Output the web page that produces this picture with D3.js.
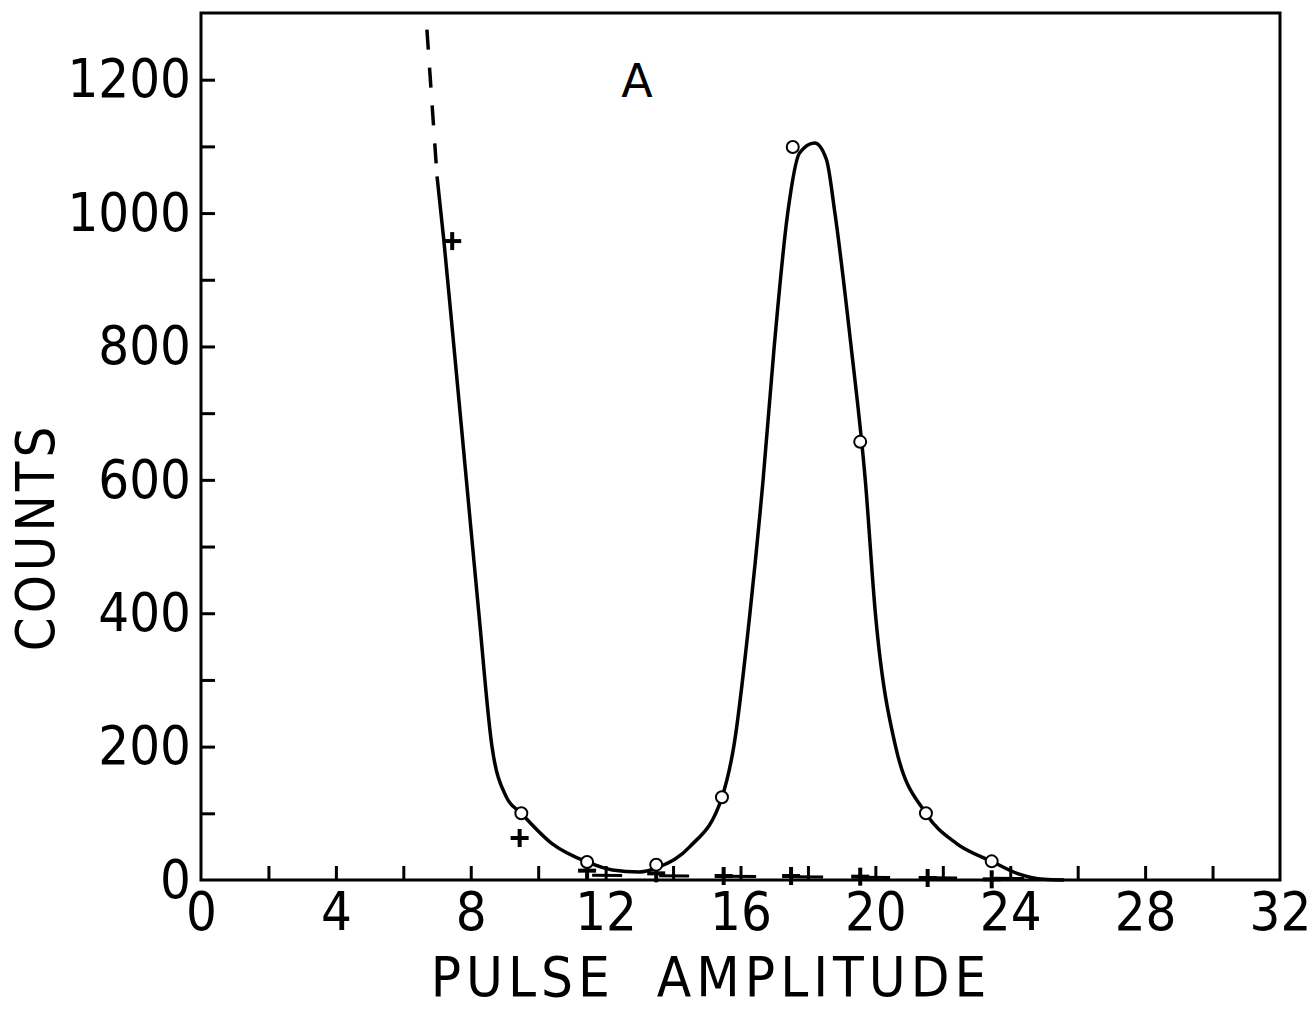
<!DOCTYPE html>
<html>
<head>
<meta charset="utf-8">
<script src="https://cdn.jsdelivr.net/npm/d3@7"></script>
<style>
  body { margin: 0; background: #fff; }
  text { font-family: "DejaVu Sans Condensed", "Liberation Sans Narrow", "DejaVu Sans", sans-serif; fill: #000; }
  .axis path, .axis line { stroke: #000; stroke-width: 3; }
</style>
</head>
<body>
<div id="chart"></div>
<script>
/* Pulse amplitude spectrum, panel A */

// open circles: measured counts
const circleX = [9.5, 11.45, 13.5, 15.45, 17.55, 19.55, 21.5, 23.45];
const circleY = [100, 27, 23, 124, 1099, 657, 100, 28];

// crosses: background counts
const plusX = [7.45, 9.45, 11.45, 13.5, 15.5, 17.5, 19.55, 21.55, 23.45];
const plusY = [958, 63, 14, 10, 6, 6, 5, 3, 1];

// smooth curve drawn through the circles
const curveX = [7.0, 7.2, 7.5, 7.87, 8.24, 8.63, 9.05, 9.5, 10.4, 11.45, 12.2, 13.0, 13.6, 14.5, 15.45, 15.8, 16.28, 16.67, 17.0, 17.4, 17.75, 18.2, 18.55, 18.8, 19.28, 19.7, 20.0, 20.6, 21.5, 22.4, 23.45, 24.2, 25.0, 25.6];
const curveY = [1055, 960, 800, 600, 400, 200, 125, 100, 55, 27, 15, 12, 20, 50, 124, 200, 400, 600, 800, 1000, 1090, 1105, 1080, 1000, 800, 600, 400, 200, 100, 55, 28, 10, 1, 0];

// dashed extension of the curve above the top
const extX = [6.7, 7.0];
const extY = [1275, 1055];

// dashed line through the crosses near zero
const bgX = [11.6, 25.0];
const bgY = [7, 2];

const xTicks = d3.range(2, 32, 2);
const xLabels = [0, 4, 8, 12, 16, 20, 24, 28, 32];
const yTicks = d3.range(100, 1300, 100);
const yLabels = [0, 200, 400, 600, 800, 1000, 1200];

let width = 1316,
  height = 1009,
  margin = { top: 13, right: 36, bottom: 129, left: 201 };

const svg = d3
  .select("#chart")
  .append("svg")
  .attr("width", width)
  .attr("height", height);

let x = d3
  .scaleLinear()
  .domain([0, 32])
  .range([margin.left, width - margin.right]);

let y = d3
  .scaleLinear()
  .domain([0, 1300])
  .range([height - margin.bottom, margin.top]);

// frame
svg
  .append("rect")
  .attr("x", x(0))
  .attr("y", y(1300))
  .attr("width", x(32) - x(0))
  .attr("height", y(0) - y(1300))
  .attr("fill", "none")
  .attr("stroke", "#000")
  .attr("stroke-width", 3);

// inner ticks
svg
  .append("g")
  .attr("class", "axis")
  .attr("transform", `translate(0,${y(0)})`)
  .call(d3.axisBottom(x).tickValues(xTicks).tickSize(-14).tickFormat(""))
  .call((g) => g.select(".domain").remove());

svg
  .append("g")
  .attr("class", "axis")
  .attr("transform", `translate(${x(0)},0)`)
  .call(d3.axisLeft(y).tickValues(yTicks).tickSize(-14).tickFormat(""))
  .call((g) => g.select(".domain").remove());

// tick labels
svg
  .append("g")
  .attr("transform", `translate(0,${y(0)})`)
  .call(d3.axisBottom(x).tickValues(xLabels).tickSize(0).tickPadding(12).tickFormat(d3.format("d")))
  .call((g) => g.select(".domain").remove())
  .selectAll("text")
  .attr("font-size", 54)
  .style("font-family", null);

svg
  .append("g")
  .attr("transform", `translate(${x(0)},0)`)
  .call(d3.axisLeft(y).tickValues(yLabels).tickSize(0).tickPadding(10).tickFormat(d3.format("d")))
  .call((g) => g.select(".domain").remove())
  .selectAll("text")
  .attr("font-size", 54)
  .style("font-family", null);

// axis titles
svg
  .append("text")
  .attr("x", 711)
  .attr("y", 996)
  .attr("text-anchor", "middle")
  .attr("font-size", 56)
  .attr("letter-spacing", 5)
  .style("white-space", "pre")
  .text("PULSE  AMPLITUDE");

svg
  .append("text")
  .attr("transform", `translate(54,537) rotate(-90)`)
  .attr("text-anchor", "middle")
  .attr("font-size", 54)
  .attr("letter-spacing", 4)
  .text("COUNTS");

svg
  .append("text")
  .attr("x", 637)
  .attr("y", 97)
  .attr("text-anchor", "middle")
  .attr("font-size", 46)
  .style("font-family", "'DejaVu Sans', sans-serif")
  .text("A");

// curves
let line = d3
  .line()
  .x((d) => x(d[0]))
  .y((d) => y(d[1]));

svg
  .append("path")
  .datum(d3.zip(curveX, curveY))
  .attr("fill", "none")
  .attr("stroke", "#000")
  .attr("stroke-width", 3.5)
  .attr("d", line.curve(d3.curveMonotoneX));

svg
  .append("path")
  .datum(d3.zip(extX, extY))
  .attr("fill", "none")
  .attr("stroke", "#000")
  .attr("stroke-width", 3.5)
  .attr("stroke-dasharray", "20,18")
  .attr("d", line.curve(d3.curveLinear));

svg
  .append("path")
  .datum(d3.zip(bgX, bgY))
  .attr("fill", "none")
  .attr("stroke", "#000")
  .attr("stroke-width", 3)
  .attr("stroke-dasharray", "30,37")
  .attr("d", line.curve(d3.curveLinear));

// crosses
const plus = svg
  .append("g")
  .selectAll("g")
  .data(d3.zip(plusX, plusY))
  .join("g")
  .attr("transform", (d) => `translate(${x(d[0])},${y(d[1])})`);

plus
  .append("line")
  .attr("x1", -9)
  .attr("x2", 9)
  .attr("stroke", "#000")
  .attr("stroke-width", 4);

plus
  .append("line")
  .attr("y1", -9)
  .attr("y2", 9)
  .attr("stroke", "#000")
  .attr("stroke-width", 4);

// circles
svg
  .append("g")
  .selectAll("circle")
  .data(d3.zip(circleX, circleY))
  .join("circle")
  .attr("cx", (d) => x(d[0]))
  .attr("cy", (d) => y(d[1]))
  .attr("r", 6)
  .attr("fill", "#fff")
  .attr("stroke", "#000")
  .attr("stroke-width", 2);
</script>
</body>
</html>
